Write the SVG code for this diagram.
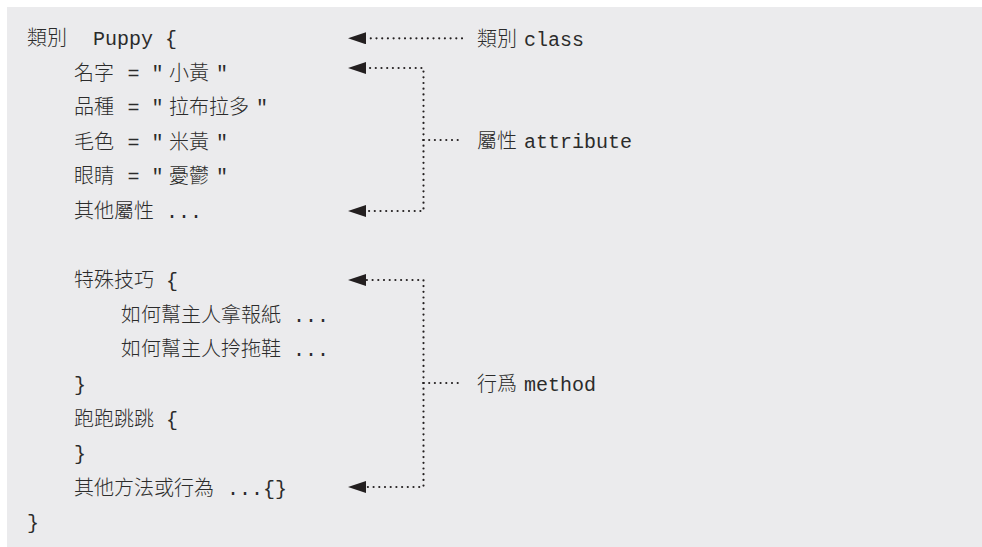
<svg xmlns="http://www.w3.org/2000/svg" width="982" height="547" viewBox="0 0 982 547">
<defs>
<style>
.t{font-family:'Liberation Mono','Noto Sans CJK TC',monospace;font-size:20px;fill:#2b2b2b;font-weight:300}
.d{fill:none;stroke:#231f20;stroke-width:2.2;stroke-linecap:round;stroke-dasharray:0 5.7}
</style>
<marker id="arr" viewBox="0 0 18 12" refX="0" refY="6" markerWidth="18" markerHeight="12" markerUnits="userSpaceOnUse" orient="auto">
<path d="M0 0 L18 6 L0 12 Z" fill="#231f20"/>
</marker>
</defs>
<rect x="7" y="7" width="975" height="540" fill="#ebebed"/>
<g id="code">
<g id="line-class"><text class="t" x="27" y="45"><tspan>類別</tspan><tspan x="93" xml:space="preserve">Puppy {</tspan></text></g>
<g id="line-name"><text class="t" x="74" y="79.6" xml:space="preserve">名字<tspan x="127.5">= "</tspan><tspan x="169">小黃</tspan><tspan x="216">"</tspan></text></g>
<g id="line-breed"><text class="t" x="74" y="114.2" xml:space="preserve">品種<tspan x="127.5">= "</tspan><tspan x="169">拉布拉多</tspan><tspan x="256">"</tspan></text></g>
<g id="line-color"><text class="t" x="74" y="148.8" xml:space="preserve">毛色<tspan x="127.5">= "</tspan><tspan x="169">米黃</tspan><tspan x="216">"</tspan></text></g>
<g id="line-eyes"><text class="t" x="74" y="183.4" xml:space="preserve">眼睛<tspan x="127.5">= "</tspan><tspan x="169">憂鬱</tspan><tspan x="216">"</tspan></text></g>
<g id="line-other-attr"><text class="t" x="74" y="218" xml:space="preserve">其他屬性 ...</text></g>
<g id="line-skill"><text class="t" x="74" y="287.2" xml:space="preserve">特殊技巧 {</text></g>
<g id="line-newspaper"><text class="t" x="121" y="321.8" xml:space="preserve">如何幫主人拿報紙 ...</text></g>
<g id="line-slippers"><text class="t" x="121" y="356.4" xml:space="preserve">如何幫主人拎拖鞋 ...</text></g>
<g id="line-skill-end"><text class="t" x="74" y="391">}</text></g>
<g id="line-jump"><text class="t" x="74" y="425.6" xml:space="preserve">跑跑跳跳 {</text></g>
<g id="line-jump-end"><text class="t" x="74" y="460.2">}</text></g>
<g id="line-other-method"><text class="t" x="74" y="494.8" xml:space="preserve">其他方法或行為<tspan x="227">...{}</tspan></text></g>
<g id="line-class-end"><text class="t" x="27" y="529.4">}</text></g>
</g>
<g id="label-class"><text class="t" x="477" y="45.5">類別<tspan x="524">class</tspan></text></g>
<g id="label-attribute"><text class="t" x="477" y="147.5">屬性<tspan x="524">attribute</tspan></text></g>
<g id="label-method"><text class="t" x="477" y="391">行爲<tspan x="524">method</tspan></text></g>
<g id="connectors">
<path class="d" d="M462 38.3 H366" marker-end="url(#arr)"/>
<path class="d" d="M423.5 140 V68 H366" marker-end="url(#arr)"/>
<path class="d" d="M423.5 140 V211 H366" marker-end="url(#arr)"/>
<path class="d" d="M423.5 140 H462"/>
<path class="d" d="M423.5 383 V280 H366" marker-end="url(#arr)"/>
<path class="d" d="M423.5 383 V487 H366" marker-end="url(#arr)"/>
<path class="d" d="M423.5 383 H462"/>
</g>
</svg>
